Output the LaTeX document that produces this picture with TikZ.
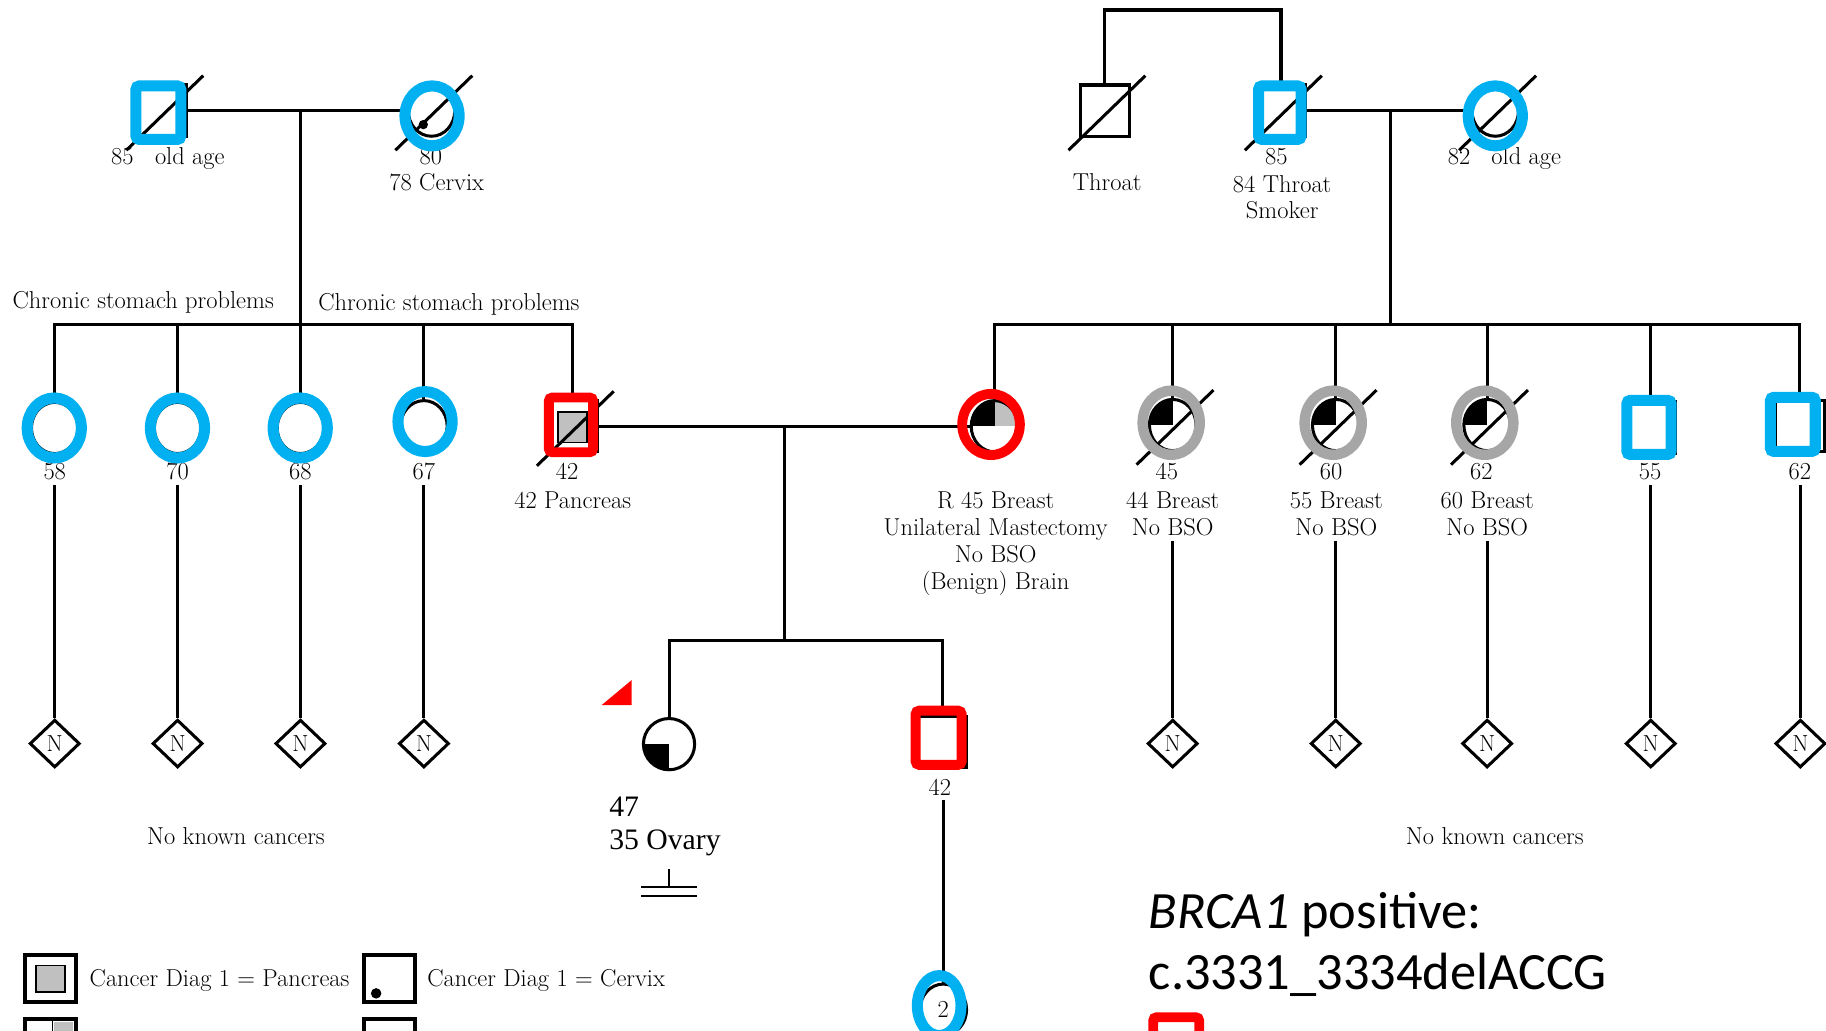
\documentclass[tikz,border=0pt]{standalone}
\usepackage{fontspec}
\newfontfamily\timesfont{Liberation Serif}
\newfontfamily\calibrifont{Carlito}
\usetikzlibrary{shapes.geometric}
\definecolor{hlblue}{HTML}{00B0F0}
\definecolor{hlred} {HTML}{FF0000}
\definecolor{hlgray}{HTML}{A6A6A6}
\definecolor{cafill}{HTML}{C0C0C0}
\tikzset{
  % --- pedigree symbols
  male/.style   = {rectangle, draw=black, fill=white, line width=2.6pt,
                   minimum width=42pt, minimum height=44pt, inner sep=0pt},
  female/.style = {ellipse, draw=black, fill=white, line width=2.6pt,
                   minimum width=40pt, minimum height=44pt, inner sep=0pt},
  kids/.style   = {diamond, draw=black, fill=white, line width=2.6pt,
                   minimum width=43pt, minimum height=41pt, inner sep=0pt,
                   font=\fontsize{20}{20}\selectfont},
  % --- overlays
  hlbox/.style  = {rectangle, rounded corners=3pt, line width=9.5pt,
                   minimum width=38.5pt, minimum height=46pt, inner sep=0pt},
  hlring/.style = {ellipse, line width=9.5pt,
                   minimum width=46.5pt, minimum height=51.5pt, inner sep=0pt},
  % --- text
  lbl/.style    = {font=\fontsize{21}{23}\selectfont, text=black,
                   inner sep=0pt, outer sep=4pt},
  lines/.style  = {lbl, align=center, anchor=north},
  % --- edges
  link/.style   = {line width=2.6pt, draw=black},
}

\begin{document}
\begin{tikzpicture}[x=1pt, y=-1pt]
  \useasboundingbox (0,0) rectangle (1568,885);
  \clip (0,0) rectangle (1568,885);

  % --- grandparents
  \node[male] (gfL) at (139.5,95) {};
  \node[female] (gmL) at (370.5,95) {};
  \fill ([shift={(-7,12)}]gmL.center) circle (4);
  \node[male] (thr) at (948.5,95) {};
  \node[male] (gfR) at (1100,95) {};
  \node[female] (gmR) at (1284,95) {};
  \coordinate (ggp) at (1025,8.6);

  % --- parents' generation
  \foreach \p/\x in {c58/47, c70/152.5, c68/258}
    \node[female] (\p) at (\x,367.5) {};
  \node[female] (c67) at (364,366) {};
  \node[male] (u42) at (492,366) {};
  \node[draw, line width=1.3pt, fill=cafill, minimum width=25pt,
        minimum height=26pt, inner sep=0pt] (u42ca) at (491.5,367) {};
  \node[female, path picture={
          \fill[black] (path picture bounding box.center) rectangle (path picture bounding box.north west);
          \fill[cafill] (path picture bounding box.center) rectangle (path picture bounding box.north east);}]
        (mom) at (854,366) {};
  \foreach \p/\x in {a45/1007, a60/1147, a62/1277}
    \node[female, path picture={
            \fill[black] (path picture bounding box.center) rectangle (path picture bounding box.north west);}]
          (\p) at (\x,365) {};
  \node[male] (u55) at (1417.5,367) {};
  \node[male] (u62) at (1545.5,366) {};

  % --- children
  \foreach \p/\x in {c58/47, c70/152.5, c68/258, c67/364, a45/1007,
                     a60/1147, a62/1277, u55/1417.5, u62/1546}
    \node[kids] (n-\p) at (\x,638.5) {N};
  \node[female, minimum width=44pt, path picture={
          \fill[black] (path picture bounding box.center) rectangle (path picture bounding box.south west);}]
        (d47) at (574.5,639) {};
  \node[male] (s42) at (809,637) {};
  \node[female, font=\fontsize{21}{23}\selectfont] (g2) at (810,867) {2};

  % --- labels
  \node[lbl, anchor=base] (lgfL) at (105,141) {85};
  \node[lbl, anchor=base] (ogfL) at (163,141) {old age};
  \node[lbl, anchor=base] (lgmL) at (370,141) {80};
  \node[lbl, anchor=base] (tgmL) at (375,163.5) {78 Cervix};
  \node[lbl, anchor=base] (tthr) at (950.7,163.5) {Throat};
  \node[lbl, anchor=base] (lgfR) at (1096,141) {85};
  \node[lines] (tgfR) at (1101,146.3) {84 Throat\\Smoker};
  \node[lbl, anchor=base] (lgmR) at (1253,141) {82};
  \node[lbl, anchor=base] (ogmR) at (1310.6,141) {old age};
  \node[lbl, anchor=base] (csL) at (123,265) {Chronic stomach problems};
  \node[lbl, anchor=base] (csR) at (385.5,267) {Chronic stomach problems};

  \foreach \p/\t/\x in {c58/58/47, c70/70/152.5, c68/68/258, c67/67/364,
                        u42/42/487, a45/45/1002, a60/60/1143, a62/62/1272,
                        u55/55/1417, u62/62/1545.5}
    \node[lbl, anchor=base] (l\p) at (\x,412) {\t};
  \node[lines] (tu42) at (491.8,418.6) {42 Pancreas};
  \node[lines] (tmom) at (855,418.6) {R 45 Breast\\Unilateral Mastectomy\\No BSO\\(Benign) Brain};
  \node[lines] (ta45) at (1007,418.6) {44 Breast\\No BSO};
  \node[lines] (ta60) at (1147.5,418.6) {55 Breast\\No BSO};
  \node[lines] (ta62) at (1277,418.6) {60 Breast\\No BSO};

  \node[lbl, anchor=base] (nkL) at (202.6,725) {No known cancers};
  \node[lbl, anchor=base] (nkR) at (1283.6,725) {No known cancers};
  \node[lbl, anchor=base] (ls42) at (807,683) {42};
  \node[font=\timesfont\fontsize{25.5}{28}\selectfont, align=left,
        anchor=north west, inner sep=0pt] (td47) at (523,684.5) {47\\35 Ovary};

  % --- lines of descent
  \draw[link] (gfL.east) -- (gmL.west);
  \coordinate (dL) at (258,95);
  \coordinate (sibL) at (258,279);
  \draw[link] (dL) -- (sibL) -- (c68.north);
  \draw[link] (c58.north) |- (sibL);
  \draw[link] (u42.north) |- (sibL);
  \foreach \p in {c70,c67} \draw[link] (\p.north) -- (\p.north |- sibL);

  \draw[link] (thr.north) |- (ggp) -| (gfR.north);
  \draw[link] (gfR.east) -- (gmR.west);
  \coordinate (dR) at (1194,95);
  \coordinate (sibR) at (1194,279);
  \draw[link] (dR) -- (sibR);
  \draw[link] (mom.north) |- (sibR);
  \draw[link] (u62.north) |- (sibR);
  \foreach \p in {a45,a60,a62,u55} \draw[link] (\p.north) -- (\p.north |- sibR);

  \draw[link] (u42.east) -- (mom.west);
  \coordinate (dP) at (674,366);
  \coordinate (sibP) at (674,550);
  \draw[link] (dP) -- (sibP);
  \draw[link] (d47.north) |- (sibP);
  \draw[link] (s42.north) |- (sibP);
  \draw[link] (ls42.south -| g2.north) -- (g2.north);

  \foreach \p in {c58,c70,c68,c67,u55,u62}
    \draw[link] (l\p.south -| n-\p.north) -- (n-\p.north);
  \foreach \p in {a45,a60,a62}
    \draw[link] (t\p.south -| n-\p.north) -- (n-\p.north);

  % deceased
  \foreach \p in {gfL,gmL,thr,gfR,gmR,u42,a45,a60,a62}
    \draw[link] ([shift={(-31,34)}]\p.center) -- ([shift={(35,-30)}]\p.center);

  % infertility
  \coordinate (inf) at (574.5,761.5);
  \draw[link, line width=2.2pt] (574.5,746) -- (inf);
  \draw[link, line width=2.2pt] ([xshift=-24pt]inf) -- ([xshift=24pt]inf);
  \draw[link, line width=2.2pt] ([shift={(-24,8)}]inf) -- ([shift={(24,8)}]inf);

  % --- key
  \node[draw, line width=3.5pt, minimum width=43.5pt, minimum height=40.5pt] (key1) at (43.5,840) {};
  \node[draw, line width=1.5pt, fill=cafill, minimum width=25pt, minimum height=23pt] (key1in) at (43.5,840.5) {};
  \node[lbl, anchor=base west, inner sep=0pt, outer sep=0pt] (key1t) at (77,847.5) {Cancer Diag 1 = Pancreas};
  \node[draw, line width=3.5pt, minimum width=43.5pt, minimum height=40.5pt] (key2) at (334.5,840) {};
  \fill (323,853) circle (4.5);
  \node[lbl, anchor=base west, inner sep=0pt, outer sep=0pt] (key2t) at (367,847.5) {Cancer Diag 1 = Cervix};
  \node[draw, line width=3.5pt, minimum width=43.5pt, minimum height=40.5pt] (key3) at (43.5,895) {};
  \fill[cafill] (46,878) rectangle (63,915);
  \draw[line width=1.5pt] (45,876) -- (45,915);
  \node[draw, line width=3.5pt, minimum width=43.5pt, minimum height=40.5pt] (key4) at (334.5,895) {};

  % --- highlights
  \node[hlbox, draw=hlblue] (hgfL) at (136,96.75) {};
  \node[hlring, draw=hlblue] (hgmL) at (371,99.5) {};
  \node[hlbox, draw=hlblue, minimum width=36.5pt] (hgfR) at (1099,96.75) {};
  \node[hlring, draw=hlblue] (hgmR) at (1284,99.5) {};
  \foreach \p/\x/\y in {c58/46.6/367.5, c70/152.4/367.5, c68/257.8/367.5, c67/365/362}
    \node[hlring, draw=hlblue] (h\p) at (\x,\y) {};
  \node[hlbox, draw=hlred, line width=8.5pt, minimum width=38pt, minimum height=47pt] (hu42) at (490.3,364.85) {};
  \node[hlring, draw=hlred, line width=8.5pt, minimum width=49.5pt, minimum height=52.5pt] (hmom) at (851,364.5) {};
  \foreach \p/\x in {a45/1005.7, a60/1144.8, a62/1275}
    \node[hlring, draw=hlgray, line width=9pt, minimum width=49pt, minimum height=55pt] (h\p) at (\x,363) {};
  \node[hlbox, draw=hlblue, minimum width=38pt, minimum height=46.5pt] (hu55) at (1416,367) {};
  \node[hlbox, draw=hlblue, minimum height=46.5pt] (hu62) at (1539.5,364.4) {};
  \node[hlbox, draw=hlred, line width=8.5pt, minimum width=39.5pt, minimum height=46.5pt] (hs42) at (806,633.5) {};
  \node[hlring, draw=hlblue, minimum width=37.5pt] (hg2) at (806.5,863.5) {};
  \fill[hlred] (516.7,605.4) -- (542.4,605.4) -- (542.4,584) -- cycle;

  \node[font=\calibrifont\fontsize{45}{53}\selectfont, align=left, anchor=north west,
        inner sep=0pt] (brca) at (986.3,765.7) {\textit{BRCA1} positive:\\c.3331\_3334delACCG};
  \node[hlbox, draw=hlred, line width=8.5pt, minimum width=39.5pt] (hkey) at (1010,896.5) {};
\end{tikzpicture}
\end{document}
